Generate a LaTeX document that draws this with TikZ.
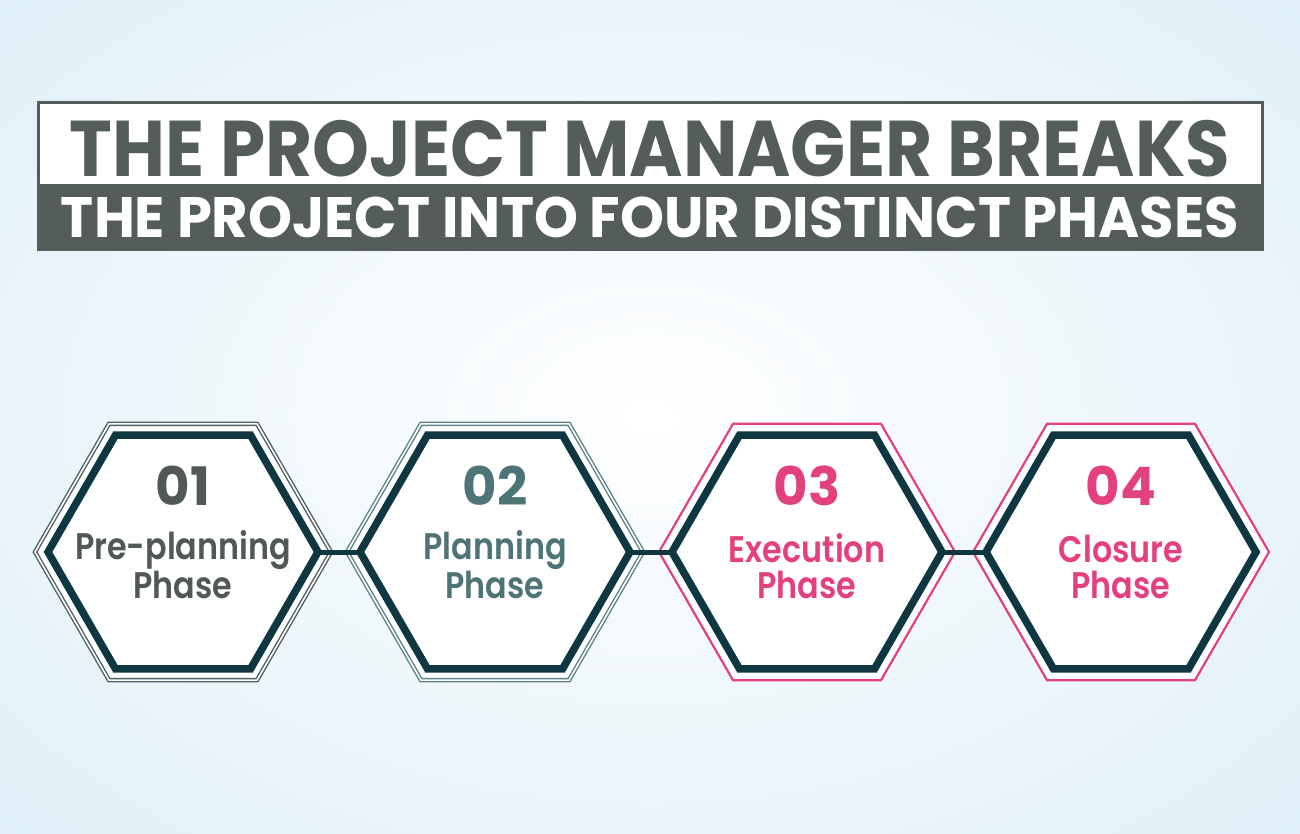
\documentclass[tikz,border=0pt]{standalone}
\usepackage{fontspec}
\usepackage{graphicx}
\setmainfont{Poppins}
\newfontfamily\titlefont{Poppins Bold}
\newfontfamily\phasefont{Poppins SemiBold}[FakeStretch=0.86]
\newfontfamily\numfont{Poppins Bold}
\usetikzlibrary{shapes.geometric}

\definecolor{bgblue}{HTML}{DDEEF7}
\definecolor{titlegrey}{HTML}{545D5A}
\definecolor{hexteal}{HTML}{0F3742}
\definecolor{greytext}{HTML}{505957}
\definecolor{tealtext}{HTML}{4F7478}
\definecolor{phasepink}{HTML}{E3417E}
\definecolor{ringgrey}{HTML}{4E5F62}
\definecolor{ringteal}{HTML}{5B8286}

\begin{document}
\begin{tikzpicture}[x=1pt,y=-1pt,
  hexcore/.style={regular polygon, regular polygon sides=6, minimum size=270pt, inner sep=0pt, outer sep=0pt, draw=hexteal, line width=7.5pt, fill=white},
  hexring/.style={regular polygon, regular polygon sides=6, minimum size=296pt, inner sep=0pt, outer sep=0pt, fill=white},
  greyring/.style={hexring, draw=#1, line width=1.4pt, double=white, double distance=1.6pt},
  pinkring/.style={hexring, draw=phasepink, line width=2.2pt},
  phasenum/.style={font=\numfont\fontsize{53}{53}\selectfont, text=#1, anchor=base},
  phasename/.style={font=\phasefont\fontsize{37}{36}\selectfont, text=#1, align=center, anchor=base},
  titletop/.style={font=\titlefont\fontsize{79}{79}\selectfont, text=titlegrey, anchor=base, inner sep=0pt},
  titlebot/.style={font=\titlefont\fontsize{57}{57}\selectfont, text=white, anchor=base, inner sep=0pt},
  link/.style={draw=hexteal, line width=5pt}
]
\useasboundingbox (0,0) rectangle (1300,834);
% background
\fill[bgblue] (0,0) rectangle (1300,834);
\shade[inner color=white, outer color=bgblue] (-330,-230) rectangle (1630,1064);

% title banner
\draw[titlegrey, line width=3pt, fill=white] (38,103) rectangle (1262,250);
\fill[titlegrey] (38,184) rectangle (1262,250);
\node[titletop] (title) at (650,177) {\resizebox{1160pt}{\height}{THE PROJECT MANAGER BREAKS}};
\node[titlebot] (subtitle) at (650,237) {\resizebox{1178pt}{\height}{THE PROJECT INTO FOUR DISTINCT PHASES}};

% phases
\node[greyring=ringgrey] (r1) at (183,552) {};
\node[hexcore] (h1) at (183,552) {};
\node[phasenum=greytext] (n1) at (183,505) {01};
\node[phasename=greytext] (p1) at (183,598) {Pre-planning\\Phase};

\node[greyring=ringteal] (r2) at (495,552) {};
\node[hexcore] (h2) at (495,552) {};
\node[phasenum=tealtext] (n2) at (495,505) {02};
\node[phasename=tealtext] (p2) at (495,598) {Planning\\Phase};

\node[pinkring] (r3) at (807,552) {};
\node[hexcore] (h3) at (807,552) {};
\node[phasenum=phasepink] (n3) at (807,505) {03};
\node[phasename=phasepink] (p3) at (807,598) {Execution\\Phase};

\node[pinkring] (r4) at (1121,552) {};
\node[hexcore] (h4) at (1121,552) {};
\node[phasenum=phasepink] (n4) at (1121,505) {04};
\node[phasename=phasepink] (p4) at (1121,598) {Closure\\Phase};

\draw[link] (h1.corner 6) -- (h2.corner 3);
\draw[link] (h2.corner 6) -- (h3.corner 3);
\draw[link] (h3.corner 6) -- (h4.corner 3);
\end{tikzpicture}
\end{document}
